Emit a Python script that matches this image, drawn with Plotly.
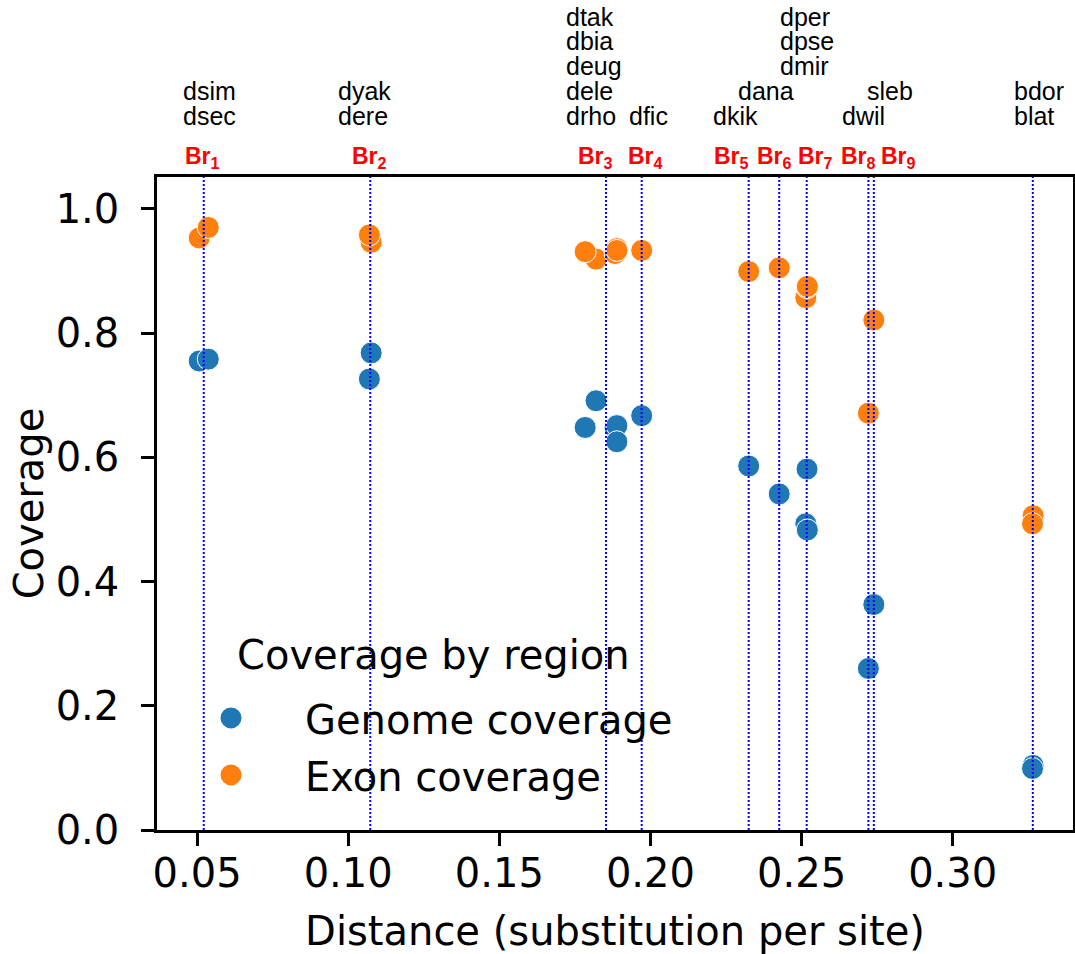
import plotly.graph_objects as go

# ---------------- data ----------------
species = ["dsec", "dsim", "dere", "dyak", "dtak", "dbia", "deug", "dele", "drho",
           "dfic", "dkik", "dana", "dmir", "dpse", "dper", "dwil", "sleb", "blat", "bdor"]
branch = ["Br1", "Br1", "Br2", "Br2", "Br3", "Br3", "Br3", "Br3", "Br3",
          "Br4", "Br5", "Br6", "Br7", "Br7", "Br7", "Br8", "Br9", "Out", "Out"]
distance = [0.0507, 0.0537, 0.1076, 0.1070, 0.1820, 0.1883, 0.1889, 0.1784, 0.1889,
            0.1971, 0.2325, 0.2426, 0.2514, 0.2518, 0.2519, 0.2721, 0.2739, 0.3266, 0.3264]
genome_cov = [0.755, 0.758, 0.768, 0.726, 0.691, 0.648, 0.651, 0.648, 0.625,
              0.667, 0.586, 0.541, 0.493, 0.581, 0.483, 0.260, 0.363, 0.104, 0.099]
exon_cov = [0.953, 0.970, 0.946, 0.958, 0.919, 0.928, 0.936, 0.931, 0.933,
            0.933, 0.899, 0.905, 0.857, 0.873, 0.875, 0.671, 0.821, 0.506, 0.493]

branch_order = ["Br1", "Br2", "Br3", "Br4", "Br5", "Br6", "Br7", "Br8", "Br9", "Out"]
branch_names = ["Br<sub>1</sub>", "Br<sub>2</sub>", "Br<sub>3</sub>", "Br<sub>4</sub>",
                "Br<sub>5</sub>", "Br<sub>6</sub>", "Br<sub>7</sub>", "Br<sub>8</sub>",
                "Br<sub>9</sub>", ""]
# species names written above each branch, top line first
branch_species = [["dsim", "dsec"], ["dyak", "dere"],
                  ["dtak", "dbia", "deug", "dele", "drho"], ["dfic"], ["dkik"],
                  ["dana", ""], ["dper", "dpse", "dmir", "", ""], ["dwil"], ["sleb", ""],
                  ["bdor", "blat"]]

x_ticks = [0.05, 0.10, 0.15, 0.20, 0.25, 0.30]
y_ticks = [0.0, 0.2, 0.4, 0.6, 0.8, 1.0]
series_names = ["Genome coverage", "Exon coverage"]
legend_title = "Coverage by region"

# ---------------- layout constants (positions / styles) ----------------
BLUE = "#1f77b4"
ORANGE = "#ff7f0e"
FONT = "DejaVu Sans"
LABEL_FONT = "Liberation Sans"
# left edges (data x) for the text blocks above the axes
species_label_x = [0.0447, 0.0960, 0.1714, 0.1923, 0.2199, 0.2283, 0.2421, 0.2626, 0.2710, 0.3197]
br_label_x = [0.0453, 0.1005, 0.1754, 0.1920, 0.2205, 0.2347, 0.2481, 0.2624, 0.2756, None]
ROW0_SHIFT = 61.5
ROW_STEP = 24.75
BR_SHIFT = 20

fig = go.Figure()

fig.add_trace(go.Scatter(
    x=distance, y=genome_cov, mode="markers", name=series_names[0], showlegend=False,
    marker=dict(size=22, color=BLUE, line=dict(color="white", width=1)),
    text=species))
fig.add_trace(go.Scatter(
    x=distance, y=exon_cov, mode="markers", name=series_names[1], showlegend=False,
    marker=dict(size=22, color=ORANGE, line=dict(color="white", width=1)),
    text=species))
# legend entries
for i, (name, col) in enumerate(zip(series_names, [BLUE, ORANGE])):
    fig.add_trace(go.Scatter(
        x=[None], y=[None], mode="markers", name=name, showlegend=True,
        legendgroup="g%d" % i,
        marker=dict(size=22, color=col, line=dict(color=col, width=5))))

# vertical dotted lines at each branch (mean distance of the group)
annotations = []
for bi, b in enumerate(branch_order):
    xs = [d for d, br in zip(distance, branch) if br == b]
    xm = sum(xs) / len(xs)
    fig.add_shape(type="line", xref="x", yref="paper", x0=xm, x1=xm, y0=0, y1=1,
                  line=dict(color="blue", width=2, dash="2px,2px"), layer="above")
    if branch_names[bi]:
        annotations.append(dict(
            x=br_label_x[bi], y=1, xref="x", yref="paper", xanchor="left", yanchor="middle",
            yshift=BR_SHIFT, text="<b>" + branch_names[bi] + "</b>", showarrow=False,
            font=dict(family=LABEL_FONT, size=23, color="red")))
    names = branch_species[bi]
    n = len(names)
    for k, nm in enumerate(names):
        if not nm:
            continue
        row = n - 1 - k
        annotations.append(dict(
            x=species_label_x[bi], y=1, xref="x", yref="paper", xanchor="left",
            yanchor="middle", yshift=ROW0_SHIFT + ROW_STEP * row, text=nm,
            showarrow=False, font=dict(family=LABEL_FONT, size=25, color="black")))

# legend title (placed as text above the legend entries)
annotations.append(dict(
    x=0.3023, y=0.268, xref="paper", yref="paper", xanchor="center", yanchor="middle",
    text=legend_title, showarrow=False,
    font=dict(family=FONT, size=40, color="black")))

axis_common = dict(
    showline=True, mirror=True, linecolor="black", linewidth=2.5,
    ticks="outside", ticklen=13, tickwidth=2.5, tickcolor="black",
    showgrid=False, zeroline=False,
    tickfont=dict(family=FONT, size=40, color="black"),
)

fig.update_layout(
    width=1075, height=954,
    margin=dict(l=157, r=2, t=177, b=124),
    plot_bgcolor="white", paper_bgcolor="white",
    font=dict(family=FONT, color="black"),
    xaxis=dict(range=[0.03674, 0.3398], tickvals=x_ticks,
               ticktext=["%.2f" % v for v in x_ticks],
               title=dict(text="Distance (substitution per site)",
                          font=dict(family=FONT, size=40), standoff=24),
               automargin=False, ticklabelstandoff=-7, **axis_common),
    yaxis=dict(range=[0, 1.0512], tickvals=y_ticks,
               ticktext=["%.1f" % v for v in y_ticks],
               title=dict(text="Coverage", font=dict(family=FONT, size=40), standoff=0),
               automargin=False, ticklabelstandoff=14, **axis_common),
    legend=dict(x=0.0, y=0.2214, xanchor="left", yanchor="top",
                bgcolor="rgba(0,0,0,0)", itemwidth=138,
                traceorder="grouped", tracegroupgap=2,
                font=dict(family=FONT, size=40, color="black")),
    annotations=annotations,
)

fig.write_html("out.html")
